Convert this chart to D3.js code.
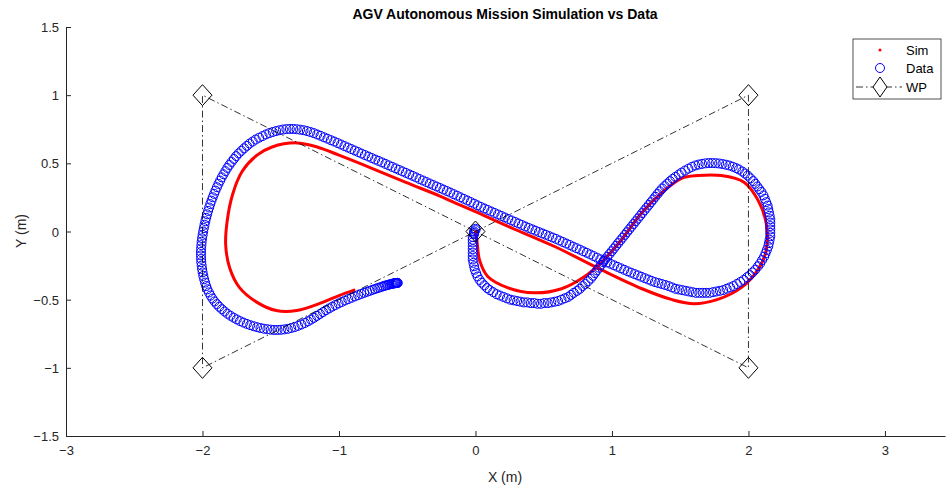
<!DOCTYPE html>
<html>
<head>
<meta charset="utf-8">
<script src="https://cdn.jsdelivr.net/npm/d3@7"></script>
<style>
  body { margin: 0; background: #fff; }
  text { font-family: "Liberation Sans", Arial, sans-serif; }
</style>
</head>
<body>
<div id="svg-container"></div>
<script>
// sim trajectory (x, y in m)
var simPts = [
  [0.00, 0.00], [0.01, -0.06], [0.03, -0.21], [0.09, -0.33], [0.23, -0.41],
  [0.43, -0.45], [0.63, -0.42], [0.80, -0.33], [0.92, -0.23], [1.07, -0.06],
  [1.22, 0.14], [1.36, 0.28], [1.51, 0.39], [1.63, 0.41], [1.80, 0.41],
  [1.97, 0.36], [2.07, 0.23], [2.13, 0.06], [2.13, -0.14], [2.07, -0.28],
  [1.95, -0.41], [1.77, -0.50], [1.60, -0.53], [1.44, -0.50], [1.22, -0.42],
  [0.92, -0.28], [0.58, -0.11], [0.21, 0.05], [0.00, 0.145], [-0.15, 0.21],
  [-0.26, 0.26], [-0.51, 0.36], [-0.75, 0.46], [-1.00, 0.56], [-1.16, 0.62],
  [-1.31, 0.65], [-1.49, 0.62], [-1.60, 0.56], [-1.71, 0.44], [-1.78, 0.27],
  [-1.82, 0.07], [-1.83, -0.10], [-1.80, -0.27], [-1.73, -0.41], [-1.60, -0.52],
  [-1.46, -0.58], [-1.31, -0.58], [-1.12, -0.52], [-1.00, -0.47], [-0.89, -0.43]
];

// logged data (x, y in m)
var dataPts = [
  [0.00, 0.02], [0.00, 0.01], [-0.01, 0.00], [-0.01, -0.01], [-0.01, -0.02], [-0.02, -0.04],
  [-0.02, -0.06], [-0.02, -0.08], [-0.02, -0.105], [-0.02, -0.13], [-0.02, -0.155], [-0.02, -0.18],
  [-0.02, -0.205], [-0.015, -0.23], [-0.01, -0.255], [-0.005, -0.28], [0.005, -0.305], [0.015, -0.33],
  [0.03, -0.355], [0.045, -0.375], [0.065, -0.395], [0.085, -0.415], [0.105, -0.43], [0.13, -0.445],
  [0.155, -0.46], [0.18, -0.47], [0.205, -0.48], [0.23, -0.49], [0.255, -0.50], [0.28, -0.505],
  [0.305, -0.51], [0.33, -0.515], [0.355, -0.52], [0.38, -0.52], [0.405, -0.525], [0.43, -0.525],
  [0.455, -0.53], [0.48, -0.53], [0.505, -0.525], [0.53, -0.525], [0.555, -0.52], [0.58, -0.515],
  [0.605, -0.51], [0.63, -0.50], [0.655, -0.49], [0.68, -0.48], [0.70, -0.465], [0.72, -0.45],
  [0.745, -0.435], [0.765, -0.42], [0.785, -0.40], [0.805, -0.385], [0.825, -0.365], [0.845, -0.345],
  [0.86, -0.325], [0.875, -0.305], [0.89, -0.285], [0.905, -0.265], [0.92, -0.245], [0.935, -0.225],
  [0.95, -0.205], [0.966, -0.185], [0.982, -0.165], [0.998, -0.145], [1.014, -0.125], [1.03, -0.105],
  [1.046, -0.085], [1.062, -0.065], [1.078, -0.045], [1.094, -0.025], [1.11, -0.005], [1.126, 0.015],
  [1.142, 0.035], [1.158, 0.055], [1.174, 0.075], [1.19, 0.095], [1.206, 0.115], [1.222, 0.135],
  [1.238, 0.155], [1.254, 0.175], [1.27, 0.195], [1.286, 0.215], [1.302, 0.235], [1.318, 0.255],
  [1.334, 0.275], [1.35, 0.295], [1.368, 0.315], [1.386, 0.333], [1.405, 0.351], [1.425, 0.369],
  [1.445, 0.386], [1.465, 0.401], [1.49, 0.418], [1.51, 0.432], [1.535, 0.447], [1.56, 0.461],
  [1.585, 0.474], [1.61, 0.484], [1.635, 0.491], [1.66, 0.496], [1.685, 0.50], [1.71, 0.502],
  [1.735, 0.502], [1.76, 0.501], [1.785, 0.499], [1.81, 0.495], [1.835, 0.49], [1.86, 0.484],
  [1.885, 0.475], [1.91, 0.465], [1.93, 0.455], [1.955, 0.44], [1.975, 0.425], [1.995, 0.41],
  [2.015, 0.39], [2.035, 0.37], [2.05, 0.35], [2.065, 0.33], [2.08, 0.31], [2.095, 0.29],
  [2.11, 0.265], [2.12, 0.24], [2.13, 0.215], [2.14, 0.19], [2.145, 0.165], [2.15, 0.14],
  [2.155, 0.115], [2.16, 0.09], [2.16, 0.065], [2.16, 0.04], [2.16, 0.015], [2.16, -0.01],
  [2.16, -0.035], [2.155, -0.06], [2.15, -0.085], [2.145, -0.11], [2.135, -0.135], [2.125, -0.16],
  [2.115, -0.185], [2.10, -0.21], [2.085, -0.235], [2.07, -0.255], [2.05, -0.28], [2.03, -0.30],
  [2.01, -0.32], [1.99, -0.335], [1.965, -0.355], [1.94, -0.37], [1.915, -0.385], [1.89, -0.40],
  [1.865, -0.41], [1.84, -0.42], [1.815, -0.43], [1.79, -0.435], [1.765, -0.44], [1.74, -0.445],
  [1.715, -0.45], [1.69, -0.45], [1.665, -0.45], [1.64, -0.45], [1.615, -0.45], [1.59, -0.445],
  [1.565, -0.44], [1.54, -0.435], [1.515, -0.43], [1.49, -0.425], [1.465, -0.42], [1.44, -0.41],
  [1.415, -0.40], [1.39, -0.392], [1.365, -0.385], [1.34, -0.378], [1.315, -0.371], [1.29, -0.362],
  [1.265, -0.352], [1.24, -0.342], [1.215, -0.332], [1.19, -0.322], [1.165, -0.312], [1.14, -0.302],
  [1.115, -0.292], [1.09, -0.281], [1.065, -0.27], [1.04, -0.259], [1.015, -0.248], [0.99, -0.237],
  [0.965, -0.227], [0.94, -0.215], [0.915, -0.204], [0.89, -0.192], [0.865, -0.18], [0.84, -0.168],
  [0.815, -0.156], [0.79, -0.145], [0.765, -0.133], [0.74, -0.122], [0.715, -0.111], [0.69, -0.099],
  [0.665, -0.088], [0.64, -0.077], [0.615, -0.066], [0.59, -0.054], [0.565, -0.044], [0.54, -0.034],
  [0.515, -0.024], [0.49, -0.014], [0.465, -0.004], [0.44, 0.006], [0.415, 0.016], [0.39, 0.026],
  [0.365, 0.037], [0.34, 0.048], [0.315, 0.059], [0.29, 0.07], [0.265, 0.081], [0.24, 0.092],
  [0.215, 0.103], [0.19, 0.114], [0.165, 0.125], [0.14, 0.136], [0.115, 0.147], [0.09, 0.158],
  [0.065, 0.169], [0.04, 0.18], [0.015, 0.192], [-0.01, 0.204], [-0.035, 0.216], [-0.06, 0.228],
  [-0.085, 0.239], [-0.11, 0.251], [-0.135, 0.263], [-0.16, 0.274], [-0.185, 0.286], [-0.21, 0.297],
  [-0.235, 0.308], [-0.26, 0.319], [-0.285, 0.33], [-0.31, 0.341], [-0.335, 0.352], [-0.36, 0.363],
  [-0.385, 0.374], [-0.41, 0.385], [-0.435, 0.397], [-0.46, 0.408], [-0.485, 0.419], [-0.51, 0.43],
  [-0.535, 0.441], [-0.56, 0.452], [-0.585, 0.463], [-0.61, 0.474], [-0.635, 0.485], [-0.66, 0.496],
  [-0.685, 0.507], [-0.71, 0.518], [-0.735, 0.528], [-0.76, 0.539], [-0.785, 0.55], [-0.81, 0.561],
  [-0.835, 0.572], [-0.86, 0.583], [-0.885, 0.594], [-0.91, 0.605], [-0.935, 0.616], [-0.96, 0.627],
  [-0.985, 0.638], [-1.01, 0.649], [-1.035, 0.66], [-1.06, 0.67], [-1.085, 0.681], [-1.11, 0.691],
  [-1.135, 0.702], [-1.16, 0.712], [-1.185, 0.722], [-1.21, 0.73], [-1.235, 0.737], [-1.26, 0.743],
  [-1.285, 0.747], [-1.31, 0.75], [-1.335, 0.752], [-1.36, 0.752], [-1.385, 0.751], [-1.41, 0.748],
  [-1.435, 0.743], [-1.46, 0.737], [-1.485, 0.73], [-1.51, 0.722], [-1.535, 0.712], [-1.56, 0.70],
  [-1.585, 0.688], [-1.61, 0.675], [-1.632, 0.66], [-1.655, 0.645], [-1.675, 0.628], [-1.695, 0.61],
  [-1.715, 0.592], [-1.735, 0.573], [-1.753, 0.553], [-1.77, 0.532], [-1.787, 0.51], [-1.803, 0.488],
  [-1.818, 0.466], [-1.832, 0.443], [-1.846, 0.42], [-1.859, 0.397], [-1.871, 0.373], [-1.883, 0.349],
  [-1.894, 0.325], [-1.905, 0.30], [-1.915, 0.276], [-1.925, 0.251], [-1.934, 0.226], [-1.943, 0.201],
  [-1.951, 0.176], [-1.959, 0.151], [-1.966, 0.126], [-1.973, 0.10], [-1.979, 0.075], [-1.985, 0.05],
  [-1.99, 0.025], [-1.995, 0.0], [-1.999, -0.025], [-2.003, -0.05], [-2.006, -0.075], [-2.008, -0.10],
  [-2.01, -0.125], [-2.011, -0.15], [-2.011, -0.175], [-2.01, -0.20], [-2.009, -0.225], [-2.006, -0.25],
  [-2.003, -0.275], [-1.999, -0.30], [-1.994, -0.325], [-1.988, -0.35], [-1.981, -0.375], [-1.973, -0.40],
  [-1.964, -0.424], [-1.953, -0.447], [-1.941, -0.47], [-1.927, -0.492], [-1.912, -0.513], [-1.895, -0.533],
  [-1.877, -0.552], [-1.858, -0.57], [-1.838, -0.587], [-1.817, -0.603], [-1.795, -0.618], [-1.772, -0.632],
  [-1.749, -0.645], [-1.725, -0.657], [-1.70, -0.668], [-1.675, -0.678], [-1.65, -0.687], [-1.625, -0.695],
  [-1.60, -0.702], [-1.575, -0.708], [-1.55, -0.713], [-1.525, -0.717], [-1.50, -0.72], [-1.475, -0.722],
  [-1.45, -0.722], [-1.425, -0.721], [-1.40, -0.718], [-1.375, -0.714], [-1.35, -0.708], [-1.325, -0.701],
  [-1.30, -0.692], [-1.275, -0.682], [-1.25, -0.671], [-1.227, -0.659], [-1.205, -0.646], [-1.183, -0.633],
  [-1.161, -0.619], [-1.139, -0.605], [-1.117, -0.591], [-1.095, -0.577], [-1.072, -0.564], [-1.049, -0.551],
  [-1.026, -0.539], [-1.003, -0.528], [-0.98, -0.517], [-0.956, -0.506], [-0.932, -0.496], [-0.908, -0.486],
  [-0.884, -0.476], [-0.86, -0.467], [-0.837, -0.458], [-0.815, -0.45], [-0.794, -0.442], [-0.774, -0.435],
  [-0.755, -0.428], [-0.737, -0.422], [-0.72, -0.416], [-0.704, -0.411], [-0.689, -0.406], [-0.675, -0.401],
  [-0.662, -0.397], [-0.65, -0.394], [-0.639, -0.391], [-0.629, -0.388], [-0.62, -0.386], [-0.612, -0.384],
  [-0.605, -0.382], [-0.599, -0.381], [-0.593, -0.38], [-0.588, -0.379], [-0.583, -0.378], [-0.579, -0.378],
  [-0.575, -0.377], [-0.572, -0.377], [-0.57, -0.377]
];

// waypoints
var wpPts = [[0, 0], [2, 1], [2, -1], [-2, 1], [-2, -1], [0, 0]];

var xTicks = [-3, -2, -1, 0, 1, 2, 3];
var yTicks = [-1.5, -1, -0.5, 0, 0.5, 1, 1.5];
var legendNames = ["Sim", "Data", "WP"];

var width = 946, height = 486;
var axisColor = "#262626";

var svg = d3
  .select("#svg-container")
  .append("svg")
  .attr("width", width)
  .attr("height", height);

var x = d3.scaleLinear().domain([-3, 3.44]).range([66, 945]);
var y = d3.scaleLinear().domain([-1.5, 1.5]).range([436, 27]);

//axes, ticks pointing inward
var xAxis = svg
  .append("g")
  .attr("transform", "translate(0," + y(-1.5) + ")")
  .call(
    d3.axisBottom(x).tickValues(xTicks).tickSizeInner(-5).tickSizeOuter(0)
      .tickPadding(10).tickFormat(d3.format("~g"))
  );
var yAxis = svg
  .append("g")
  .attr("transform", "translate(" + x(-3) + ",0)")
  .call(
    d3.axisLeft(y).tickValues(yTicks).tickSizeInner(-5).tickSizeOuter(0)
      .tickPadding(7).tickFormat(d3.format("~g"))
  );

[xAxis, yAxis].forEach(function (g) {
  g.select(".domain").attr("stroke", axisColor);
  g.selectAll(".tick line").attr("stroke", axisColor);
  g.selectAll("text")
    .attr("fill", axisColor)
    .style("font-size", "13px")
    .style("font-family", "'Liberation Sans', Arial, sans-serif");
});
yAxis.selectAll("text").attr("dy", "0.35em");

//sim: dense red points, drawn as a thick trace
var line = d3
  .line()
  .x(function (d) { return x(d[0]); })
  .y(function (d) { return y(d[1]); })
  .curve(d3.curveCatmullRom.alpha(0.5));

svg
  .append("path")
  .datum(simPts)
  .attr("d", line)
  .attr("fill", "none")
  .attr("stroke", "#ff0000")
  .attr("stroke-width", 3)
  .attr("stroke-linecap", "round");

//data circles
svg
  .append("g")
  .selectAll("circle")
  .data(dataPts)
  .enter()
  .append("circle")
  .attr("cx", function (d) { return x(d[0]); })
  .attr("cy", function (d) { return y(d[1]); })
  .attr("r", 4.5)
  .attr("fill", "none")
  .attr("stroke", "#0000ff")
  .attr("stroke-width", 1);

//waypoints
var dashDot = "7,3,1.5,3";
svg
  .append("path")
  .datum(wpPts)
  .attr("d", d3.line().x(function (d) { return x(d[0]); }).y(function (d) { return y(d[1]); }))
  .attr("fill", "none")
  .attr("stroke", "#000")
  .attr("stroke-width", 0.8)
  .attr("stroke-dasharray", dashDot);

function diamond(cx, cy, w, h) {
  return "M" + cx + "," + (cy - h) + "L" + (cx + w) + "," + cy +
    "L" + cx + "," + (cy + h) + "L" + (cx - w) + "," + cy + "Z";
}

svg
  .append("g")
  .selectAll("path")
  .data(wpPts.slice(0, 5))
  .enter()
  .append("path")
  .attr("d", function (d) { return diamond(x(d[0]), y(d[1]), 9.5, 10.5); })
  .attr("fill", "none")
  .attr("stroke", "#000")
  .attr("stroke-width", 1);

//title and labels
svg
  .append("text")
  .attr("x", 505)
  .attr("y", 19)
  .attr("text-anchor", "middle")
  .style("font-size", "14px")
  .style("font-weight", "bold")
  .attr("fill", "#000")
  .text("AGV Autonomous Mission Simulation vs Data");

svg
  .append("text")
  .attr("x", 505)
  .attr("y", 482)
  .attr("text-anchor", "middle")
  .style("font-size", "14px")
  .attr("fill", axisColor)
  .text("X (m)");

svg
  .append("text")
  .attr("transform", "translate(26,231) rotate(-90)")
  .attr("text-anchor", "middle")
  .style("font-size", "14px")
  .attr("fill", axisColor)
  .text("Y (m)");

//legend
var legend = svg.append("g").attr("transform", "translate(853,39)");
legend
  .append("rect")
  .attr("width", 88)
  .attr("height", 60)
  .attr("fill", "#fff")
  .attr("stroke", axisColor)
  .attr("stroke-width", 0.8);

var rowY = [11, 29, 48];
legend.selectAll("text.name")
  .data(legendNames)
  .enter()
  .append("text")
  .attr("class", "name")
  .attr("x", 53)
  .attr("y", function (d, i) { return rowY[i]; })
  .attr("dy", "0.35em")
  .style("font-size", "13px")
  .attr("fill", "#000")
  .text(function (d) { return d; });

legend.append("circle").attr("cx", 27).attr("cy", rowY[0]).attr("r", 1.5).attr("fill", "#ff0000");
legend.append("circle").attr("cx", 27).attr("cy", rowY[1]).attr("r", 4.5)
  .attr("fill", "none").attr("stroke", "#0000ff");
legend.append("line")
  .attr("x1", 3).attr("x2", 49).attr("y1", rowY[2]).attr("y2", rowY[2])
  .attr("stroke", "#000").attr("stroke-width", 0.8).attr("stroke-dasharray", dashDot);
legend.append("path")
  .attr("d", diamond(27, rowY[2], 7, 10))
  .attr("fill", "#fff")
  .attr("stroke", "#000");
</script>
</body>
</html>
